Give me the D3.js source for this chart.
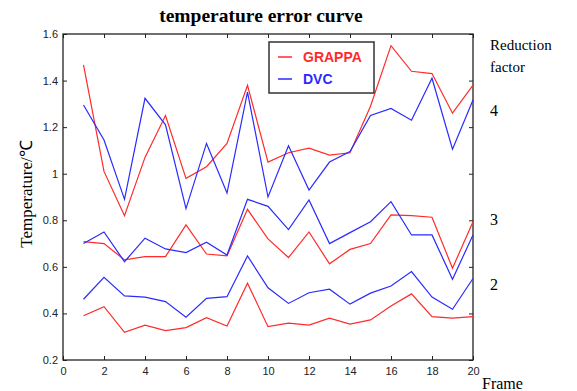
<!DOCTYPE html>
<html>
<head>
<meta charset="utf-8">
<script src="https://cdn.jsdelivr.net/npm/d3@7"></script>
<style>
  body { margin: 0; background: #fff; }
  svg { display: block; }
</style>
</head>
<body>
<svg id="chart" width="577" height="391"></svg>
<script>
// frames 1..20
var frames = d3.range(1, 21);

// reduction factor 4
var grappa4 = [1.467, 1.01, 0.82, 1.07, 1.25, 0.98, 1.03, 1.13, 1.38, 1.05, 1.09, 1.11, 1.08, 1.09, 1.29, 1.55, 1.44, 1.43, 1.26, 1.38];
var dvc4    = [1.295, 1.145, 0.89, 1.324, 1.21, 0.85, 1.13, 0.917, 1.35, 0.90, 1.12, 0.93, 1.05, 1.095, 1.25, 1.28, 1.23, 1.41, 1.105, 1.317];
// reduction factor 3
var grappa3 = [0.708, 0.70, 0.63, 0.644, 0.644, 0.78, 0.655, 0.647, 0.847, 0.72, 0.64, 0.75, 0.613, 0.675, 0.70, 0.823, 0.82, 0.813, 0.594, 0.794];
var dvc3    = [0.70, 0.75, 0.622, 0.723, 0.677, 0.661, 0.706, 0.651, 0.89, 0.86, 0.76, 0.887, 0.70, 0.747, 0.794, 0.88, 0.737, 0.737, 0.547, 0.737];
// reduction factor 2
var grappa2 = [0.39, 0.429, 0.319, 0.35, 0.326, 0.339, 0.382, 0.346, 0.53, 0.343, 0.358, 0.35, 0.38, 0.354, 0.372, 0.432, 0.484, 0.386, 0.38, 0.386];
var dvc2    = [0.461, 0.555, 0.475, 0.47, 0.451, 0.384, 0.465, 0.472, 0.647, 0.51, 0.443, 0.489, 0.504, 0.44, 0.487, 0.518, 0.58, 0.47, 0.418, 0.55];

var xTicks = d3.range(0, 21, 2);
var yTicks = [0.2, 0.4, 0.6, 0.8, 1, 1.2, 1.4, 1.6];
var factorLabels = [{t: "4", y: 1.27}, {t: "3", y: 0.8}, {t: "2", y: 0.52}];

var red = "#ff2a2a", blue = "#2a2aff";

var svg = d3.select("#chart");
var mLeft = 63, mRight = 473, mTop = 34, mBottom = 360;

var x = d3.scaleLinear().domain([0, 20]).range([mLeft, mRight]);
var y = d3.scaleLinear().domain([0.2, 1.6]).range([mBottom, mTop]);

// title
svg.append("text")
    .attr("x", 261).attr("y", 22)
    .attr("text-anchor", "middle")
    .style("font-family", "'Liberation Serif', 'Times New Roman', serif")
    .style("font-weight", "bold")
    .style("font-size", "19.5px")
    .text("temperature error curve");

// axes (MATLAB style box, ticks inside)
var axisStyle = function(g) {
    g.select(".domain").remove();
    g.selectAll("line").attr("stroke", "#222");
    g.selectAll("text")
        .style("font-family", "'Liberation Sans', Arial, sans-serif")
        .style("font-size", "11px")
        .attr("fill", "#222");
};

svg.append("g")
    .attr("transform", "translate(0," + mBottom + ")")
    .call(d3.axisBottom(x).tickValues(xTicks).tickSizeInner(-4).tickSizeOuter(0).tickPadding(7).tickFormat(d3.format("d")))
    .call(axisStyle);

svg.append("g")
    .attr("transform", "translate(" + mLeft + ",0)")
    .call(d3.axisLeft(y).tickValues(yTicks).tickSizeInner(-4).tickSizeOuter(0).tickPadding(5).tickFormat(function(d) { return String(d); }))
    .call(axisStyle);

svg.append("g")
    .attr("transform", "translate(0," + mTop + ")")
    .call(d3.axisTop(x).tickValues(xTicks).tickSizeInner(-4).tickSizeOuter(0).tickFormat(""))
    .call(axisStyle);

svg.append("g")
    .attr("transform", "translate(" + mRight + ",0)")
    .call(d3.axisRight(y).tickValues(yTicks).tickSizeInner(-4).tickSizeOuter(0).tickFormat(""))
    .call(axisStyle);

svg.append("rect")
    .attr("x", mLeft).attr("y", mTop)
    .attr("width", mRight - mLeft).attr("height", mBottom - mTop)
    .attr("fill", "none").attr("stroke", "#222").attr("stroke-width", 1.3);

// series
var line = d3.line()
    .x(function(d, i) { return x(frames[i]); })
    .y(function(d) { return y(d); });

var series = [
    {v: grappa4, c: red}, {v: dvc4, c: blue},
    {v: grappa3, c: red}, {v: dvc3, c: blue},
    {v: grappa2, c: red}, {v: dvc2, c: blue}
];

svg.selectAll("path.series")
    .data(series)
    .enter().append("path")
    .attr("class", "series")
    .attr("d", function(d) { return line(d.v); })
    .attr("fill", "none")
    .attr("stroke", function(d) { return d.c; })
    .attr("stroke-width", 1.2);

// legend
var lg = svg.append("g").attr("transform", "translate(269,42)");
lg.append("rect")
    .attr("width", 105).attr("height", 51)
    .attr("fill", "#fff").attr("stroke", "#333").attr("stroke-width", 1.5);
[{t: "GRAPPA", c: red, dy: 15}, {t: "DVC", c: blue, dy: 37}].forEach(function(e) {
    lg.append("line")
        .attr("x1", 9).attr("x2", 23).attr("y1", e.dy).attr("y2", e.dy)
        .attr("stroke", e.c).attr("stroke-width", 1.5);
    lg.append("text")
        .attr("x", 34).attr("y", e.dy + 5)
        .attr("fill", e.c)
        .style("font-family", "'Liberation Sans', Arial, sans-serif")
        .style("font-weight", "bold")
        .style("font-size", "14px")
        .text(e.t);
});

// right side labels
var serif = "'Liberation Serif', 'Times New Roman', serif";
svg.append("text").attr("x", 490).attr("y", 50)
    .style("font-family", serif).style("font-size", "15px").text("Reduction");
svg.append("text").attr("x", 490).attr("y", 72)
    .style("font-family", serif).style("font-size", "15px").text("factor");
svg.selectAll("text.factor")
    .data(factorLabels)
    .enter().append("text")
    .attr("class", "factor")
    .attr("x", 490)
    .attr("y", function(d) { return y(d.y) + 5; })
    .style("font-family", serif).style("font-size", "16px")
    .text(function(d) { return d.t; });

// axis titles
svg.append("text")
    .attr("transform", "translate(32,194) rotate(-90)")
    .attr("text-anchor", "middle")
    .style("font-family", serif).style("font-size", "17px")
    .text("Temperature/℃");

svg.append("text")
    .attr("x", 482).attr("y", 389)
    .style("font-family", serif).style("font-size", "16px")
    .text("Frame");
</script>
</body>
</html>
